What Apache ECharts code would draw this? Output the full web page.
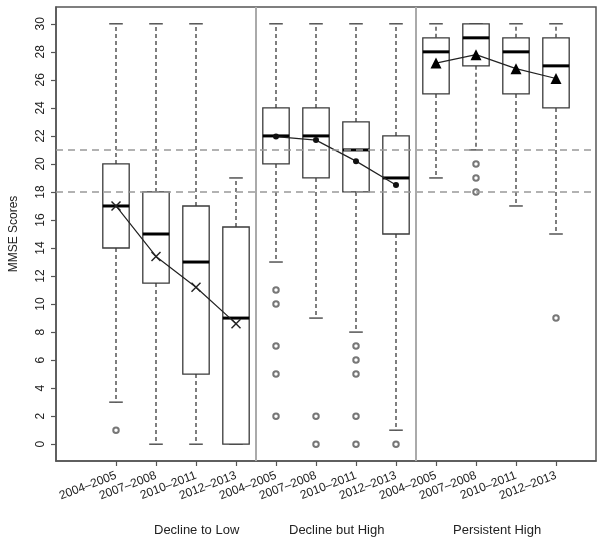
<!DOCTYPE html>
<html>
<head>
<meta charset="utf-8">
<script src="https://cdn.jsdelivr.net/npm/echarts@6/dist/echarts.min.js"></script>
<style>
html,body{margin:0;padding:0;background:#fff;}
#chart{width:604px;height:543px;}
</style>
</head>
<body>
<div id="chart"></div>
<script>
// ---- data ----
var periods = ['2004\u20132005', '2007\u20132008', '2010\u20132011', '2012\u20132013'];
var groups = ['Decline to Low', 'Decline but High', 'Persistent High'];
var positions = [1, 2, 3, 4, 5, 6, 7, 8, 9, 10, 11, 12];
var whiskerLow  = [3, 0, 0, 0,   13, 9, 8, 1,   19, 21, 17, 15];
var q1Values    = [14, 11.5, 5, 0,   20, 19, 18, 15,   25, 27, 25, 24];
var medians     = [17, 15, 13, 9,   22, 22, 21, 19,   28, 29, 28, 27];
var q3Values    = [20, 18, 17, 15.5,   24, 24, 23, 22,   29, 30, 29, 29];
var whiskerHigh = [30, 30, 30, 19,   30, 30, 30, 30,   30, 30, 30, 30];
var meansLow     = [17.0, 13.4, 11.2, 8.6];
var meansHigh    = [21.95, 21.7, 20.2, 18.5];
var meansPersist = [27.2, 27.8, 26.8, 26.1];
var outliers = [
  [1, 1],
  [5, 11], [5, 10], [5, 7], [5, 5], [5, 2],
  [6, 2], [6, 0],
  [7, 7], [7, 6], [7, 5], [7, 2], [7, 0],
  [8, 0],
  [10, 20], [10, 19], [10, 18],
  [12, 9]
];
var refLines = [18, 21];
var panelBreaks = [4.5, 8.5];
var yTicks = [0, 2, 4, 6, 8, 10, 12, 14, 16, 18, 20, 22, 24, 26, 28, 30];

// ---- build ----
var boxData = positions.map(function (p, i) {
  return [p, whiskerLow[i], q1Values[i], medians[i], q3Values[i], whiskerHigh[i]];
});
function meanSeriesData(arr, offset) {
  return arr.map(function (v, i) { return [positions[offset + i], v]; });
}
var xSymbol = 'path://M0,1 L1,0 L5,4 L9,0 L10,1 L6,5 L10,9 L9,10 L5,6 L1,10 L0,9 L4,5 Z';
var boxStroke = '#3a3a3a';

var chart = echarts.init(document.getElementById('chart'), null, {renderer: 'canvas'});
var option = {
  animation: false,
  backgroundColor: '#fff',
  textStyle: {fontFamily: 'Liberation Sans, Arial, sans-serif'},
  grid: {left: 54, right: 8, top: 7, bottom: 82, show: true, borderColor: '#555', borderWidth: 1.5, backgroundColor: 'transparent'},
  xAxis: {
    type: 'value', min: -0.5, max: 13,
    axisLine: {show: true, onZero: false, lineStyle: {color: '#555', width: 1.5}},
    axisTick: {show: true, customValues: positions, length: 5, lineStyle: {color: '#555', width: 1.2}},
    axisLabel: {
      customValues: positions, rotate: 21, fontSize: 12, color: '#222', margin: 14,
      formatter: function (v) { return periods[(Math.round(v) - 1) % 4]; }
    },
    splitLine: {show: false}
  },
  yAxis: {
    type: 'value', min: -1.2, max: 31.2,
    name: 'MMSE Scores', nameLocation: 'middle', nameGap: 36,
    nameTextStyle: {fontSize: 12, color: '#222'},
    axisLine: {show: true, onZero: false, lineStyle: {color: '#555', width: 1.5}},
    axisTick: {show: true, customValues: yTicks, length: 5, lineStyle: {color: '#555', width: 1.2}},
    axisLabel: {customValues: yTicks, rotate: 90, fontSize: 12, color: '#222', margin: 9},
    splitLine: {show: false}
  },
  graphic: [
    {type: 'text', left: 154, top: 524, style: {text: groups[0], font: '13px Liberation Sans, Arial, sans-serif', fill: '#222', textAlign: 'center'}},
    {type: 'text', left: 289, top: 524, style: {text: groups[1], font: '13px Liberation Sans, Arial, sans-serif', fill: '#222', textAlign: 'center'}},
    {type: 'text', left: 453, top: 524, style: {text: groups[2], font: '13px Liberation Sans, Arial, sans-serif', fill: '#222', textAlign: 'center'}}
  ],
  series: [
    {
      type: 'custom',
      z: 2,
      encode: {x: 0, y: [1, 2, 3, 4, 5]},
      data: boxData,
      renderItem: function (params, api) {
        var x = api.value(0);
        var pMin = api.coord([x, api.value(1)]);
        var pQ1 = api.coord([x, api.value(2)]);
        var pMed = api.coord([x, api.value(3)]);
        var pQ3 = api.coord([x, api.value(4)]);
        var pMax = api.coord([x, api.value(5)]);
        var halfW = api.size([0.33, 0])[0];
        var capW = api.size([0.17, 0])[0];
        var cx = pMed[0];
        var dash = {stroke: boxStroke, lineWidth: 1.3, lineDash: [4, 3]};
        var solid = {stroke: boxStroke, lineWidth: 1.3};
        return {
          type: 'group',
          children: [
            {type: 'line', shape: {x1: cx, y1: pQ3[1], x2: cx, y2: pMax[1]}, style: dash},
            {type: 'line', shape: {x1: cx, y1: pQ1[1], x2: cx, y2: pMin[1]}, style: dash},
            {type: 'line', shape: {x1: cx - capW, y1: pMax[1], x2: cx + capW, y2: pMax[1]}, style: solid},
            {type: 'line', shape: {x1: cx - capW, y1: pMin[1], x2: cx + capW, y2: pMin[1]}, style: solid},
            {type: 'rect', shape: {x: cx - halfW, y: pQ3[1], width: 2 * halfW, height: pQ1[1] - pQ3[1]}, style: {fill: '#fff', stroke: boxStroke, lineWidth: 1.3}},
            {type: 'line', shape: {x1: cx - halfW, y1: pMed[1], x2: cx + halfW, y2: pMed[1]}, style: {stroke: '#000', lineWidth: 3}}
          ]
        };
      }
    },
    {
      type: 'scatter',
      z: 3,
      data: outliers,
      symbol: 'emptyCircle',
      symbolSize: 5.5,
      itemStyle: {color: '#555', borderColor: '#555', borderWidth: 1},
      markLine: {
        silent: true,
        symbol: ['none', 'none'],
        label: {show: false},
        z: 5,
        data: refLines.map(function (v) {
          return {yAxis: v, lineStyle: {color: '#999', width: 1.5, type: [7, 5]}};
        }).concat(panelBreaks.map(function (v) {
          return {xAxis: v, lineStyle: {color: '#aaa', width: 2, type: 'solid'}};
        }))
      }
    },
    {
      type: 'line', z: 4,
      data: meanSeriesData(meansLow, 0),
      symbol: xSymbol, symbolSize: 10,
      itemStyle: {color: '#222'},
      lineStyle: {color: '#222', width: 1.2}
    },
    {
      type: 'line', z: 4,
      data: meanSeriesData(meansHigh, 4),
      symbol: 'circle', symbolSize: 6,
      itemStyle: {color: '#111'},
      lineStyle: {color: '#222', width: 1.2}
    },
    {
      type: 'line', z: 4,
      data: meanSeriesData(meansPersist, 8),
      symbol: 'triangle', symbolSize: 11,
      itemStyle: {color: '#000'},
      lineStyle: {color: '#222', width: 1.2}
    }
  ]
};
chart.setOption(option);
</script>
</body>
</html>
